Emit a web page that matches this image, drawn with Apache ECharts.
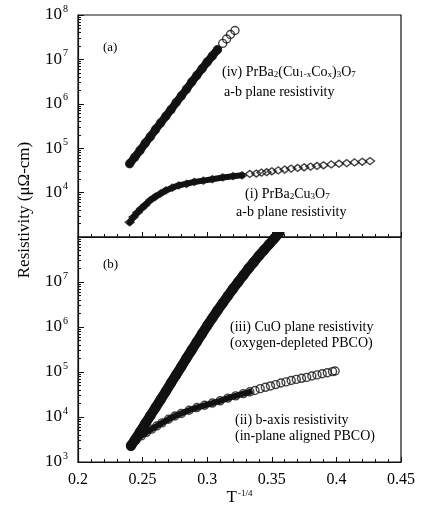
<!DOCTYPE html>
<html><head><meta charset="utf-8">
<script src="https://cdn.jsdelivr.net/npm/echarts@6/dist/echarts.min.js"></script>
<style>html,body{margin:0;padding:0;background:#fff}#c{width:422px;height:509px}</style>
</head><body><div id="c"></div>
<script>
// ---- data ----
const xTickLabels = [0.2, 0.25, 0.3, 0.35, 0.4, 0.45];
const yDecades = [1e3, 1e4, 1e5, 1e6, 1e7, 1e8];

// (iv) PrBa2(Cu1-xCox)3O7, a-b plane  (panel a)
const ivX = [0.240,0.244,0.248,0.252,0.256,0.260,0.264,0.268,0.272,0.276,0.280,0.284,0.288,0.292,0.296,0.300,0.304,0.308,0.312,0.315,0.318,0.3215];
const ivY = [4.47e4,6.31e4,8.91e4,1.29e5,1.82e5,2.63e5,3.72e5,5.25e5,7.41e5,1.07e6,1.51e6,2.14e6,3.09e6,4.37e6,6.17e6,8.71e6,1.20e7,1.66e7,2.29e7,2.88e7,3.63e7,4.47e7];

// (i) PrBa2Cu3O7, a-b plane (panel a)
const iX = [0.240,0.243,0.246,0.249,0.252,0.256,0.260,0.264,0.268,0.273,0.278,0.284,0.290,0.297,0.304,0.312,0.320,0.327,0.333,0.338,0.342,0.346,0.350,0.355,0.360,0.365,0.370,0.375,0.380,0.385,0.390,0.396,0.402,0.408,0.414,0.420,0.426];
const iY = [2.14e3,2.82e3,3.55e3,4.37e3,5.25e3,6.76e3,8.13e3,9.55e3,1.12e4,1.29e4,1.45e4,1.58e4,1.74e4,1.86e4,2.00e4,2.19e4,2.34e4,2.45e4,2.63e4,2.69e4,2.82e4,2.88e4,3.02e4,3.16e4,3.31e4,3.47e4,3.59e4,3.72e4,3.85e4,3.98e4,4.12e4,4.32e4,4.47e4,4.62e4,4.79e4,4.95e4,5.13e4];

// (iii) CuO plane, oxygen-depleted PBCO (panel b)
const iiiX = [0.241,0.244,0.248,0.252,0.256,0.260,0.264,0.268,0.272,0.276,0.280,0.284,0.288,0.292,0.296,0.300,0.304,0.308,0.312,0.316,0.320,0.324,0.328,0.332,0.336,0.340,0.344,0.348,0.352,0.356];
const iiiY = [2.29e3,3.09e3,4.68e3,7.08e3,1.07e4,1.62e4,2.45e4,3.72e4,5.75e4,8.71e4,1.32e5,2.04e5,3.09e5,4.68e5,7.08e5,1.07e6,1.58e6,2.34e6,3.39e6,4.90e6,7.08e6,1.00e7,1.41e7,2.00e7,2.75e7,3.80e7,5.13e7,6.92e7,9.33e7,1.26e8];

// (ii) b-axis, in-plane aligned PBCO (panel b)
const iiX = [0.241,0.245,0.249,0.253,0.257,0.261,0.265,0.270,0.275,0.280,0.286,0.292,0.298,0.304,0.310,0.316,0.322,0.328,0.333,0.337,0.341,0.345,0.349,0.353,0.357,0.361,0.365,0.369,0.373,0.377,0.381,0.385,0.389,0.393,0.397,0.399];
const iiY = [2.40e3,3.09e3,3.80e3,4.57e3,5.37e3,6.31e3,7.41e3,8.91e3,1.05e4,1.20e4,1.41e4,1.62e4,1.82e4,2.04e4,2.29e4,2.63e4,2.95e4,3.31e4,3.63e4,3.89e4,4.27e4,4.57e4,4.90e4,5.25e4,5.69e4,6.03e4,6.46e4,6.84e4,7.24e4,7.59e4,8.13e4,8.61e4,9.12e4,9.66e4,1.02e5,1.05e5];

// ---- build ----
const zip = (xs, ys) => xs.map((x, i) => [x, ys[i]]);
const upTo = (pts, xmax) => pts.filter(p => p[0] <= xmax);
const minorVals = [];
for (let d = 3; d < 8; d++) for (let m = 2; m <= 9; m++) minorVals.push(m * Math.pow(10, d));

const FONT = '"Liberation Serif", "DejaVu Serif", serif';
const black = '#111';

function xAxisCfg(grid, labels) {
  return {
    type: 'value', gridIndex: grid, min: 0.2, max: 0.45, interval: 0.05, position: 'bottom',
    axisLine: {show: true, lineStyle: {color: black, width: 1.2}},
    axisTick: {show: true, inside: true, length: 5, lineStyle: {color: black}},
    minorTick: {show: true, splitNumber: 5, length: 3, lineStyle: {color: black}},
    splitLine: {show: false},
    axisLabel: labels ? {show: true, color: '#000', fontFamily: FONT, fontSize: 16, margin: 10,
      formatter: v => String(+v.toFixed(2))} : {show: false},
    name: labels ? '{t|T}{s|-1/4}' : '',
    nameLocation: 'middle', nameGap: 27,
    nameTextStyle: {rich: {t: {fontFamily: FONT, fontSize: 17, color: '#000'},
      s: {fontFamily: FONT, fontSize: 9, color: '#000', verticalAlign: 'top', padding: [0,0,0,1]}}}
  };
}
function yMajor(grid, hideVal) {
  return {
    type: 'log', logBase: 10, gridIndex: grid, min: 1e3, max: 1e8, position: 'left',
    axisLine: {show: true, lineStyle: {color: black, width: 1.2}},
    axisTick: {show: true, inside: true, length: 6, lineStyle: {color: black}},
    splitLine: {show: false},
    axisLabel: {
      show: true, margin: 10,
      formatter: v => Math.abs(v - hideVal) < 1 ? '' : '{b|10}{e|' + Math.round(Math.log10(v)) + '}',
      rich: {b: {fontFamily: FONT, fontSize: 17, color: '#000', lineHeight: 22},
             e: {fontFamily: FONT, fontSize: 10, color: '#000', verticalAlign: 'top', padding: [0,0,0,1]}}
    }
  };
}
function yMinor(grid) {
  return {
    type: 'log', logBase: 10, gridIndex: grid, min: 1e3, max: 1e8, position: 'left', offset: 0,
    axisLine: {show: false}, splitLine: {show: false}, axisLabel: {show: false},
    axisTick: {show: true, inside: true, length: 3, customValues: minorVals, lineStyle: {color: black}}
  };
}

function band(pts, xi, yi, w, xmax) {
  return {type: 'line', xAxisIndex: xi, yAxisIndex: yi, data: upTo(pts, xmax),
    showSymbol: false, symbol: 'none', lineStyle: {color: black, width: w, cap: 'round', join: 'round'},
    z: 3, silent: true, animation: false};
}
function marks(pts, xi, yi, sym, size) {
  return {type: 'scatter', xAxisIndex: xi, yAxisIndex: yi, data: pts, symbol: sym, symbolSize: size,
    itemStyle: {color: 'rgba(0,0,0,0)', borderColor: black, borderWidth: 1.4},
    z: 2, animation: false};
}

const ivP = zip(ivX, ivY), iP = zip(iX, iY), iiiP = zip(iiiX, iiiY), iiP = zip(iiX, iiY);

const richSub = {s: {fontFamily: FONT, fontSize: 9, color: '#000', verticalAlign: 'bottom'}};
function txt(x, y, text, size) {
  return {type: 'text', x: x, y: y, style: {text: text, fill: '#000', font: (size || 14) + 'px ' + FONT,
    textAlign: 'left', textVerticalAlign: 'middle', rich: richSub}};
}

const chart = echarts.init(document.getElementById('c'), null, {renderer: 'canvas'});
chart.setOption({
  backgroundColor: '#fff',
  animation: false,
  grid: [
    {left: 78, top: 15, width: 323, height: 222, show: true, borderColor: black, borderWidth: 1.2, backgroundColor: 'transparent'},
    {left: 78, top: 237, width: 323, height: 225, show: true, borderColor: black, borderWidth: 1.2, backgroundColor: 'transparent'}
  ],
  xAxis: [xAxisCfg(0, false), xAxisCfg(1, true)],
  yAxis: [yMajor(0, 1e3), yMinor(0), yMajor(1, 1e8), yMinor(1)],
  series: [
    marks(ivP, 0, 0, 'circle', 8), band(ivP, 0, 0, 8, 0.309),
    marks(iP, 0, 0, 'diamond', [9, 7]), band(iP, 0, 0, 6, 0.331),
    marks(iiiP, 1, 2, 'circle', 9), band(iiiP, 1, 2, 10, 0.36),
    marks(iiP, 1, 2, 'circle', 8), band(iiP, 1, 2, 6, 0.334)
  ],
  graphic: [
    txt(103, 48, '(a)', 13),
    txt(103, 265, '(b)', 13),
    txt(222, 72, '(iv) PrBa{s|2}(Cu{s|1-x}Co{s|x}){s|3}O{s|7}', 14),
    txt(224, 92, 'a-b plane resistivity', 14),
    txt(245, 194, '(i) PrBa{s|2}Cu{s|3}O{s|7}', 14),
    txt(236, 212, 'a-b plane resistivity', 14),
    txt(230, 327, '(iii) CuO plane resistivity', 14),
    txt(230, 343, '(oxygen-depleted PBCO)', 14),
    txt(235, 420, '(ii) b-axis resistivity', 14),
    txt(235, 436, '(in-plane aligned PBCO)', 14),
    {type: 'text', x: 25, y: 210, rotation: Math.PI / 2,
     style: {text: 'Resistivity (μΩ-cm)', fill: '#000', font: '17px ' + FONT, textAlign: 'center', textVerticalAlign: 'middle'}}
  ]
});
</script>
</body></html>
